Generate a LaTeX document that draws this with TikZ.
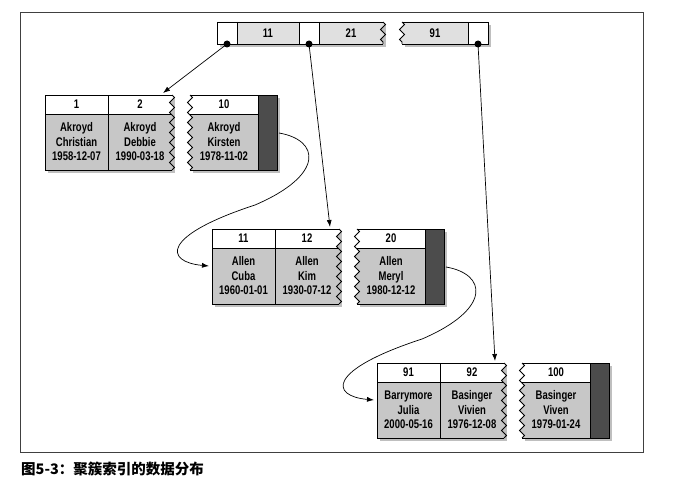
\documentclass[tikz,border=0pt]{standalone}
\usepackage{fontspec}
\setmainfont{Liberation Sans}
\newfontfamily\cellfont{Liberation Sans}[FakeStretch=0.76]
\newfontfamily\cjk{Noto Sans CJK SC}
\usetikzlibrary{arrows.meta, decorations.pathmorphing}

% one leaf page: name, top-left corner, then header/body of the three rows
\newcommand{\leafpage}[8]{%
  \begin{scope}[shift={(#2)}]
    \fill[shade] (3,3) rectangle (130,78);
    \fill[shade] (148,3) rectangle (235,78);
    % first two rows
    \fill[body] (0,0) -- (127,0) decorate {-- (127,75)} -- (0,75) -- cycle;
    \begin{scope}
      \clip (-2,-2) rectangle (140,19);
      \fill[white] (0,0) -- (127,0) decorate {-- (127,75)} -- (0,75) -- cycle;
    \end{scope}
    \draw[edge] (127,0) -- (0,0) -- (0,75) -- (127,75);
    \draw[edge, decorate] (127,0) -- (127,75);
    \draw[edge] (0,19) -- (127,19) (63,0) -- (63,75);
    % last row and next-page pointer
    \fill[body] (213,0) -- (145,0) decorate {-- (145,75)} -- (213,75) -- cycle;
    \begin{scope}
      \clip (140,-2) rectangle (213,19);
      \fill[white] (213,0) -- (145,0) decorate {-- (145,75)} -- (213,75) -- cycle;
    \end{scope}
    \fill[strip] (213,0) rectangle (232,75);
    \draw[edge] (145,0) -- (232,0) -- (232,75) -- (145,75);
    \draw[edge, decorate] (145,0) -- (145,75);
    \draw[edge] (145,19) -- (213,19) (213,0) -- (213,75);
    \node[headtxt] (#1ha) at (31.5,9.5) {#3};
    \node[bodytxt] (#1ba) at (31.5,47) {#4};
    \node[headtxt] (#1hb) at (95,9.5) {#5};
    \node[bodytxt] (#1bb) at (95,47) {#6};
    \node[headtxt] (#1hc) at (179,9.5) {#7};
    \node[bodytxt] (#1bc) at (179,47) {#8};
    \coordinate (#1in) at (118,-2);
    \coordinate (#1prev) at (-3,37);
    \coordinate (#1next) at (234,38);
  \end{scope}}

\begin{document}
\begin{tikzpicture}[
    x=1pt, y=-1pt,
    decoration={zigzag, segment length=10, amplitude=2.5},
    edge/.style={draw=black, line width=0.8},
    body/.style={fill=black!22},
    keyfill/.style={fill=black!12},
    strip/.style={fill=black!70},
    shade/.style={fill=black!25},
    headtxt/.style={font=\cellfont\bfseries\fontsize{12.5}{14}\selectfont, inner sep=0pt},
    bodytxt/.style={font=\cellfont\bfseries\fontsize{12.5}{14.5}\selectfont, align=center, inner sep=0pt},
    dot/.style={circle, fill=black, inner sep=0pt, minimum size=7},
    ptr/.style={draw=black, line width=0.7, -{Latex[length=7,width=5]}},
    frame/.style={draw=black!75, line width=0.8},
    caption/.style={font=\cjk\bfseries\fontsize{14.5}{16}\selectfont, inner sep=0pt}
  ]
  \useasboundingbox (0,0) rectangle (684,487);
  \draw[frame] (20,12) rectangle (643,452);

  % root page
  \begin{scope}[shift={(217,22)}]
    \fill[shade] (3,3) rectangle (169,25);
    \fill[shade] (188,3) rectangle (274,25);
    \fill[keyfill] (0,0) -- (166,0) decorate {-- (166,22)} -- (0,22) -- cycle;
    \fill[white] (0,0) rectangle (20,22) (82,0) rectangle (102,22);
    \draw[edge] (166,0) -- (0,0) -- (0,22) -- (166,22);
    \draw[edge, decorate] (166,0) -- (166,22);
    \draw[edge] (20,0) -- (20,22) (82,0) -- (82,22) (102,0) -- (102,22);
    \fill[keyfill] (251,0) -- (185,0) decorate {-- (185,22)} -- (251,22) -- cycle;
    \fill[white] (251,0) rectangle (271,22);
    \draw[edge] (185,0) -- (271,0) -- (271,22) -- (185,22);
    \draw[edge, decorate] (185,0) -- (185,22);
    \draw[edge] (251,0) -- (251,22);
    \node[headtxt] (k11) at (51,11) {11};
    \node[headtxt] (k21) at (134,11) {21};
    \node[headtxt] (k91) at (218,11) {91};
    \node[dot] (d11) at (10,22) {};
    \node[dot] (d21) at (92,22) {};
    \node[dot] (d91) at (261,22) {};
  \end{scope}

  % leaf pages
  \leafpage{p1}{45,95}{1}{Akroyd\\Christian\\1958-12-07}{2}{Akroyd\\Debbie\\1990-03-18}{10}{Akroyd\\Kirsten\\1978-11-02}
  \leafpage{p2}{212,229}{11}{Allen\\Cuba\\1960-01-01}{12}{Allen\\Kim\\1930-07-12}{20}{Allen\\Meryl\\1980-12-12}
  \leafpage{p3}{377,363}{91}{Barrymore\\Julia\\2000-05-16}{92}{Basinger\\Vivien\\1976-12-08}{100}{Basinger\\Viven\\1979-01-24}

  % pointers
  \draw[ptr] (d11.center) -- (p1in);
  \draw[ptr] (d21.center) -- (p2in);
  \draw[ptr] (d91.center) -- (p3in);
  \draw[ptr] (p1next) .. controls +(41,7) and +(70,-30) .. ++(-24,72)
    .. controls +(-95,31) and +(-44,-4) .. (p2prev);
  \draw[ptr] (p2next) .. controls +(41,7) and +(70,-30) .. ++(-24,72)
    .. controls +(-95,31) and +(-44,-4) .. (p3prev);

  \node[caption, anchor=west] (cap) at (21,469) {图5-3：聚簇索引的数据分布};
\end{tikzpicture}
\end{document}
